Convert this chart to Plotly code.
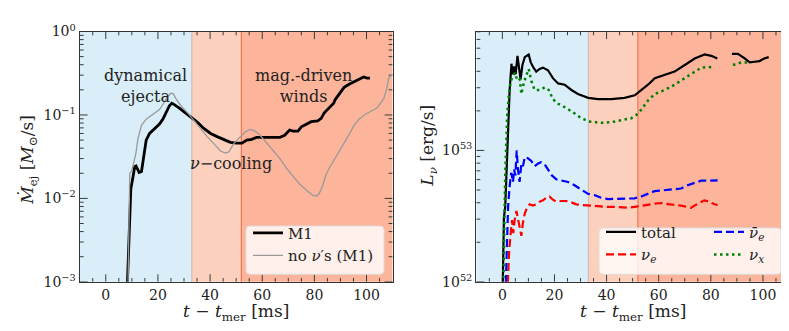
import math
import plotly.graph_objects as go

W, H = 789, 331
FONT = "DejaVu Serif"

# ---- left panel: ejecta mass rate [Msun/s] vs t - t_mer [ms]
t_m1 = [8.2, 8.8, 9.6, 10.5, 11.1, 11.6, 12.8, 13.7, 14.7, 15.5, 16.8, 18.7, 20.6, 21.9, 23.1, 24.4,
        25.3, 26.3, 28.2, 30.1, 32.6, 35.1, 37.6, 40.2, 42.7, 45.3, 47.8, 50.3, 52.2, 54.1, 56.0, 57.9,
        59.8, 61.7, 64.2, 66.8, 68.6, 70.5, 71.8, 73.7, 75.0, 76.9, 78.8, 81.3, 82.6, 83.8, 85.7, 87.4,
        88.0, 89.5, 91.4, 93.3, 95.8, 97.7, 98.9, 100.2, 101.3]
mdot_m1 = [8e-4, 3.2e-3, 1.3e-2, 1.86e-2, 2.4e-2, 2.45e-2, 2.05e-2, 2.1e-2, 3.7e-2, 5.0e-2, 6.0e-2, 6.9e-2,
           7.8e-2, 8.9e-2, 0.107, 0.129, 0.138, 0.133, 0.121, 0.109, 0.096, 0.082, 0.069, 0.060, 0.055,
           0.051, 0.047, 0.046, 0.046, 0.050, 0.051, 0.054, 0.054, 0.054, 0.054, 0.054, 0.057, 0.066,
           0.064, 0.064, 0.072, 0.078, 0.083, 0.085, 0.091, 0.106, 0.121, 0.138, 0.153, 0.179, 0.214,
           0.233, 0.254, 0.277, 0.285, 0.277, 0.277]

t_nonu = [8.5, 8.8, 9.2, 9.9, 10.9, 11.5, 12.4, 13.7, 15.5, 18.1, 20.6, 22.2, 23.5, 25.0, 25.9, 26.9,
          28.8, 31.4, 33.9, 36.4, 38.9, 41.5, 44.0, 45.9, 47.2, 49.0, 51.6, 53.5, 55.4, 57.3, 59.2, 61.7,
          64.2, 66.8, 69.3, 71.8, 74.3, 76.9, 79.4, 80.9, 81.9, 83.2, 84.5, 85.7, 87.6, 89.5, 91.4, 93.3,
          95.2, 97.1, 99.6, 102.1, 104.0, 105.3, 106.6, 107.8, 108.5, 110.0]
mdot_nonu = [8e-4, 7.8e-3, 2.0e-2, 2.1e-2, 2.75e-2, 3.4e-2, 5.3e-2, 0.075, 0.089, 0.102, 0.116, 0.138,
             0.164, 0.182, 0.180, 0.157, 0.129, 0.106, 0.085, 0.069, 0.055, 0.045, 0.037, 0.035, 0.036,
             0.045, 0.055, 0.063, 0.067, 0.064, 0.057, 0.046, 0.037, 0.030, 0.023, 0.0186, 0.0149,
             0.0126, 0.0109, 0.0107, 0.0115, 0.0143, 0.0195, 0.023, 0.029, 0.037, 0.045, 0.058, 0.075,
             0.089, 0.102, 0.111, 0.121, 0.138, 0.157, 0.21, 0.277, 0.31]

# ---- right panel: neutrino luminosities, read as log10(L / erg s^-1); None = gap in output
t_total = [0.0, 0.3, 0.6, 1.1, 1.7, 2.2, 2.8, 3.5, 3.9, 4.5, 5.1, 5.8, 6.4, 7.0, 7.7, 8.6, 10.1, 10.9,
           11.8, 13.0, 14.3, 15.6, 17.5, 19.4, 21.4, 23.9, 26.5, 29.0, 32.9, 36.7, 41.8, 46.9, 50.8,
           53.3, 55.9, 58.5, 62.3, 66.1, 70.0, 73.8, 77.6, 80.2, 82.5, 85.0,
           88.1, 90.4, 93.0, 94.9, 96.8, 98.7, 100.5, 102.2]
logL_total = [51.8, 52.3, 52.49, 52.57, 52.93, 53.22, 53.46, 53.66, 53.58, 53.64, 53.58, 53.72, 53.61,
              53.54, 53.65, 53.71, 53.73, 53.67, 53.635, 53.60, 53.62, 53.63, 53.61, 53.55, 53.51, 53.50,
              53.46, 53.43, 53.40, 53.39, 53.39, 53.40, 53.42, 53.46, 53.50, 53.55, 53.575, 53.60, 53.65,
              53.70, 53.73, 53.72, 53.70, None,
              53.735, 53.735, 53.70, 53.67, 53.675, 53.68, 53.70, 53.71]

t_nux = [0.2, 0.6, 1.1, 1.5, 1.9, 2.8, 3.5, 4.8, 5.8, 6.7, 7.3, 8.3, 9.2, 10.1, 11.1, 12.4, 14.3, 16.3,
         17.8, 19.4, 21.4, 23.9, 27.1, 30.3, 33.5, 38.0, 41.8, 45.6, 49.5, 51.4, 53.3, 55.9, 58.5, 62.3,
         66.1, 70.0, 73.8, 76.3, 78.9, 81.5, 85.0,
         88.5, 90.0, 91.7, 93.3, 94.9]
logL_nux = [51.8, 52.33, 52.81, 53.05, 53.29, 53.48, 53.54, 53.59, 53.53, 53.54, 53.43, 53.52, 53.57,
            53.62, 53.53, 53.46, 53.46, 53.48, 53.46, 53.39, 53.355, 53.33, 53.29, 53.245, 53.22, 53.21,
            53.215, 53.23, 53.245, 53.27, 53.31, 53.38, 53.43, 53.46, 53.50, 53.55, 53.60, 53.63, 53.635,
            53.63, None,
            53.65, 53.66, 53.67, 53.67, 53.67]

t_nuebar = [1.2, 1.7, 2.2, 2.8, 3.4, 4.1, 4.5, 5.0, 5.5, 6.0, 6.6, 7.3, 7.9, 8.6, 9.8, 11.1, 12.4, 13.7,
            14.9, 16.2, 17.5, 19.0, 20.7, 22.6, 25.2, 27.7, 30.3, 32.8, 35.4, 37.9, 40.5, 43.0, 45.6,
            48.1, 50.7, 53.3, 55.8, 58.4, 60.9, 63.5, 66.0, 68.6, 71.1, 73.7, 76.3, 78.8, 81.4, 82.6]
logL_nuebar = [51.9, 52.325, 52.57, 52.73, 52.83, 52.76, 52.855, 52.81, 53.0, 52.855, 52.76, 52.90,
               52.88, 52.95, 52.94, 52.92, 52.88, 52.90, 52.91, 52.895, 52.855, 52.81, 52.78, 52.77,
               52.76, 52.735, 52.70, 52.67, 52.66, 52.64, 52.63, 52.63, 52.635, 52.63, 52.635, 52.65,
               52.67, 52.69, 52.695, 52.70, 52.70, 52.71, 52.735, 52.75, 52.77, 52.77, 52.775, 52.772]

t_nue = [1.9, 2.6, 3.2, 3.7, 4.2, 4.7, 5.4, 6.0, 6.6, 7.3, 7.9, 8.6, 9.6, 10.5, 11.7, 13.0, 14.3, 15.6,
         16.9, 18.1, 19.4, 20.7, 22.6, 24.5, 26.4, 28.4, 30.3, 32.8, 35.4, 37.9, 40.5, 43.0, 45.6, 48.1,
         50.7, 53.3, 55.8, 58.4, 60.9, 63.5, 66.0, 68.6, 71.1, 72.4, 73.7, 75.6, 77.5, 79.4, 81.4, 82.6]
logL_nue = [51.9, 52.23, 52.37, 52.47, 52.37, 52.47, 52.54, 52.47, 52.40, 52.35, 52.45, 52.52, 52.57,
            52.59, 52.58, 52.59, 52.61, 52.62, 52.64, 52.65, 52.625, 52.61, 52.615, 52.615, 52.605,
            52.59, 52.585, 52.58, 52.575, 52.57, 52.57, 52.57, 52.565, 52.565, 52.57, 52.58, 52.59,
            52.595, 52.60, 52.59, 52.585, 52.58, 52.57, 52.563, 52.58, 52.60, 52.62, 52.61, 52.59, 52.585]

# phases (ms): dynamical ejecta | nu-cooling | magnetically driven winds
phase_edges = [-10, 33, 52, 110]
phase_colors = ["#d9eef8", "#fdd0be", "#fcb49a"]

x_range = [-10, 110]
left_logrange = [-3.0, 0.0]
right_logrange = [52.0, 53.905]
left_decades = [-3, -2, -1, 0]
right_decades = [52, 53]

# pixel boxes of the two panels
X_LEFT = [71.7, 384.6]
X_RIGHT = [468.3, 781]
Y_PIX = [14.3, 279]
TICK = "#3a3a3a"


def unlog(vals):
    return [None if v is None else 10.0 ** v for v in vals]


def pow_label(e):
    return "10<sup>" + str(e).replace("-", "−") + "</sup>"


def tick_marks(xa, ya, logrange, xpix):
    # matplotlib-style inward ticks on all four sides
    ppx = (xpix[1] - xpix[0]) / (x_range[1] - x_range[0])
    ppd = (Y_PIX[1] - Y_PIX[0]) / (logrange[1] - logrange[0])
    lo, hi = float(logrange[0]), float(logrange[1])
    xs, ys = [], []
    for t in range(x_range[0] + 5, x_range[1], 5):
        dy = (8 if t % 20 == 0 else 4) / ppd
        xs += [t, t, None, t, t, None]
        ys += [10.0 ** lo, 10.0 ** (lo + dy), None, 10.0 ** hi, 10.0 ** (hi - dy), None]
    for e in range(math.floor(lo), math.ceil(hi) + 1):
        for k in range(1, 10):
            v = math.log10(k) + e
            if v < lo or v > hi:
                continue
            dx = (8 if k == 1 else 4) / ppx
            xs += [x_range[0], x_range[0] + dx, None, x_range[1], x_range[1] - dx, None]
            ys += [10.0 ** v, 10.0 ** v, None, 10.0 ** v, 10.0 ** v, None]
    return go.Scatter(x=xs, y=ys, mode="lines", line=dict(color=TICK, width=1), showlegend=False,
                      hoverinfo="skip", xaxis=xa, yaxis=ya)


fig = go.Figure()

# background bands as filled traces
for xa, ya, lo, hi in [("x", "y", 1e-5, 10.0), ("x2", "y2", 1e50, 1e56)]:
    for i, c in enumerate(phase_colors):
        x0, x1 = phase_edges[i], phase_edges[i + 1]
        fig.add_trace(go.Scatter(x=[x0, x1, x1, x0, x0], y=[lo, lo, hi, hi, lo], mode="lines",
                                 fill="toself", fillcolor=c, line=dict(width=0), showlegend=False,
                                 hoverinfo="skip", xaxis=xa, yaxis=ya))
    fig.add_trace(go.Scatter(x=[33, 33], y=[lo, hi], mode="lines", showlegend=False, hoverinfo="skip",
                             line=dict(color="rgba(190,160,150,0.7)", width=1), xaxis=xa, yaxis=ya))
    fig.add_trace(go.Scatter(x=[52, 52], y=[lo, hi], mode="lines", showlegend=False, hoverinfo="skip",
                             line=dict(color="#f47650", width=1.2), xaxis=xa, yaxis=ya))

fig.add_trace(tick_marks("x", "y", left_logrange, X_LEFT))
fig.add_trace(tick_marks("x2", "y2", right_logrange, X_RIGHT))

fig.add_trace(go.Scatter(x=t_m1, y=mdot_m1, mode="lines", name="M1",
                         line=dict(color="black", width=2.8), xaxis="x", yaxis="y", legend="legend"))
fig.add_trace(go.Scatter(x=t_nonu, y=mdot_nonu, mode="lines", name="no <i>ν</i>′s (M1)",
                         line=dict(color="#999999", width=1.3), xaxis="x", yaxis="y", legend="legend"))

fig.add_trace(go.Scatter(x=t_total, y=unlog(logL_total), mode="lines", name="total",
                         line=dict(color="black", width=2.2), xaxis="x2", yaxis="y2", legend="legend2"))
fig.add_trace(go.Scatter(x=t_nue, y=unlog(logL_nue), mode="lines", name="<i>ν</i><sub><i>e</i></sub>",
                         line=dict(color="red", width=2.2, dash="8px,4px"), xaxis="x2", yaxis="y2",
                         legend="legend2"))
fig.add_trace(go.Scatter(x=t_nuebar, y=unlog(logL_nuebar), mode="lines",
                         name="<i>ν̄</i><sub><i>e</i></sub>",
                         line=dict(color="blue", width=2.2, dash="8px,4px"), xaxis="x2", yaxis="y2",
                         legend="legend3"))
fig.add_trace(go.Scatter(x=t_nux, y=unlog(logL_nux), mode="lines", name="<i>ν</i><sub><i>x</i></sub>",
                         line=dict(color="green", width=2.5, dash="2.5px,3.5px"), xaxis="x2", yaxis="y2",
                         legend="legend3"))


def box(x0, y0, x1, y1, r=4):
    # rounded legend frame, given in pixels, drawn in paper coordinates
    def px(x):
        return x / W

    def py(y):
        return 1 - y / H
    p = (f"M{px(x0 + r)},{py(y0)} L{px(x1 - r)},{py(y0)} Q{px(x1)},{py(y0)} {px(x1)},{py(y0 + r)} "
         f"L{px(x1)},{py(y1 - r)} Q{px(x1)},{py(y1)} {px(x1 - r)},{py(y1)} "
         f"L{px(x0 + r)},{py(y1)} Q{px(x0)},{py(y1)} {px(x0)},{py(y1 - r)} "
         f"L{px(x0)},{py(y0 + r)} Q{px(x0)},{py(y0)} {px(x0 + r)},{py(y0)} Z")
    return dict(type="path", xref="paper", yref="paper", path=p, fillcolor="rgba(255,255,255,0.8)",
                line=dict(color="#dddddd", width=1), layer="above")


axis = dict(showline=True, linecolor="#333333", linewidth=1.3, mirror=True, ticks="",
            showgrid=False, zeroline=False, layer="above traces",
            tickfont=dict(family=FONT, size=14, color="#222222"))

title_font = dict(family=FONT, size=17, color="#222222")
ydom = [1 - Y_PIX[1] / H, 1 - Y_PIX[0] / H]
fig.update_layout(
    width=W, height=H, margin=dict(l=0, r=0, t=0, b=0),
    paper_bgcolor="white", plot_bgcolor="white",
    font=dict(family=FONT, color="#222222"),
    xaxis=dict(axis, domain=[X_LEFT[0] / W, X_LEFT[1] / W], anchor="y", range=x_range, dtick=20),
    xaxis2=dict(axis, domain=[X_RIGHT[0] / W, X_RIGHT[1] / W], anchor="y2", range=x_range, dtick=20),
    yaxis=dict(axis, type="log", range=left_logrange, tickvals=[10.0 ** e for e in left_decades],
               ticktext=[pow_label(e) for e in left_decades], domain=ydom, anchor="x"),
    yaxis2=dict(axis, type="log", range=right_logrange, tickvals=[10.0 ** e for e in right_decades],
                ticktext=[pow_label(e) for e in right_decades], domain=ydom, anchor="x2"),
    legend=dict(x=240 / W, y=1 - 210 / H, xanchor="left", yanchor="top", bgcolor="rgba(0,0,0,0)",
                font=dict(family=FONT, size=15, color="#222222")),
    legend2=dict(x=593 / W, y=1 - 209 / H, xanchor="left", yanchor="top", bgcolor="rgba(0,0,0,0)",
                 font=dict(family=FONT, size=15, color="#222222")),
    legend3=dict(x=701 / W, y=1 - 209 / H, xanchor="left", yanchor="top", bgcolor="rgba(0,0,0,0)",
                 font=dict(family=FONT, size=15, color="#222222")),
    shapes=[box(238, 220, 376, 271), box(591, 222, 773, 271)],
    annotations=[
        dict(x=15.4, y=-0.654, xref="x", yref="y", text="dynamical<br>ejecta", showarrow=False,
             font=dict(family=FONT, size=16, color="#222222")),
        dict(x=76, y=-0.654, xref="x", yref="y", text="mag.-driven<br>winds", showarrow=False,
             font=dict(family=FONT, size=16, color="#222222")),
        dict(x=48, y=-1.587, xref="x", yref="y", text="<i>ν</i>−cooling", showarrow=False,
             font=dict(family=FONT, size=16, color="#222222")),
        # axis titles
        dict(x=228 / W, y=1 - 311 / H, xref="paper", yref="paper", showarrow=False, font=title_font,
             xanchor="center", yanchor="middle", text="<i>t</i> − <i>t</i><sub>mer</sub> [ms]"),
        dict(x=624.6 / W, y=1 - 311 / H, xref="paper", yref="paper", showarrow=False, font=title_font,
             xanchor="center", yanchor="middle", text="<i>t</i> − <i>t</i><sub>mer</sub> [ms]"),
        dict(x=21 / W, y=1 - 150 / H, xref="paper", yref="paper", showarrow=False, font=title_font,
             xanchor="center", yanchor="middle", textangle=-90,
             text="<i>Ṁ</i><sub>ej</sub> [<i>M</i><sub>⊙</sub>/s]"),
        dict(x=421 / W, y=1 - 135 / H, xref="paper", yref="paper", showarrow=False, font=title_font,
             xanchor="center", yanchor="middle", textangle=-90,
             text="<i>L</i><sub><i>ν</i></sub> [erg/s]"),
    ],
)

fig.write_html("out.html")
